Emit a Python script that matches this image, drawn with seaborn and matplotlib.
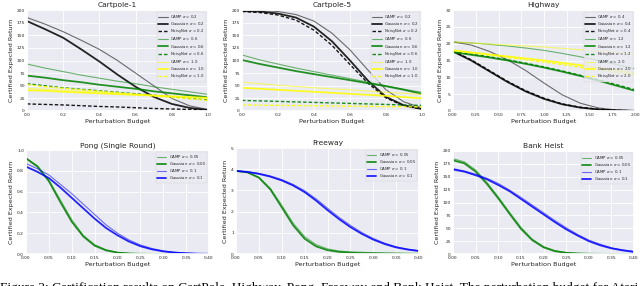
import numpy as np
import pandas as pd
import matplotlib
matplotlib.use("Agg")
import matplotlib.pyplot as plt
import seaborn as sns

# ---------------- data ----------------
x_cp = [0.0, 0.1, 0.2, 0.3, 0.4, 0.5, 0.6, 0.7, 0.8, 0.9, 1.0]
x_hw = [0.0, 0.2, 0.4, 0.6, 0.8, 1.0, 1.2, 1.4, 1.6, 1.8, 2.0]
x_at = [0.0, 0.025, 0.05, 0.075, 0.1, 0.125, 0.15, 0.175, 0.2,
        0.225, 0.25, 0.275, 0.3, 0.325, 0.35, 0.375, 0.4]

# Cartpole-1
cp1_camp_02 = [185, 172, 157, 140, 122, 100, 75, 50, 25, 10, 3]
cp1_gaus_02 = [178, 162, 145, 122, 98, 72, 48, 28, 14, 6, 2]
cp1_noisy_02 = [14, 13, 12, 10.5, 9, 8, 6.5, 5, 4, 3, 2]
cp1_camp_06 = [93, 85, 78, 71, 65, 59, 54, 48, 43, 38, 33]
cp1_gaus_06 = [70, 66, 61, 57, 52, 48, 44, 39, 35, 31, 27]
cp1_noisy_06 = [54, 50, 46, 43, 40, 37, 34, 31, 28, 25, 22]
cp1_camp_10 = [45, 43, 41, 39, 37, 35, 33, 31, 29, 27, 25]
cp1_gaus_10 = [41, 40, 38, 36.5, 35, 33.5, 32, 30.5, 29, 27.5, 26]
cp1_noisy_10 = [52, 48, 45, 42, 39, 36, 33, 30, 27, 24, 21]

# Cartpole-5
cp5_camp_02 = [200, 199, 197, 191, 178, 154, 121, 81, 42, 18, 6]
cp5_gaus_02 = [198, 197, 193, 185, 167, 138, 100, 60, 28, 11, 4]
cp5_noisy_02 = [197, 195, 190, 180, 160, 130, 92, 55, 26, 10, 4]
cp5_camp_06 = [111, 101, 93, 85, 78, 71, 64, 57, 50, 43, 37]
cp5_gaus_06 = [101, 93, 86, 79, 73, 67, 61, 55, 49, 42, 34]
cp5_noisy_06 = [21, 20, 19, 18, 17, 16, 15, 14, 13, 12, 11]
cp5_camp_10 = [57, 54, 51, 48.5, 46, 44, 42, 39.5, 37, 35, 33]
cp5_gaus_10 = [46, 44, 42, 40, 38, 36, 34, 32, 30, 27.5, 25]
cp5_noisy_10 = [12, 11.6, 11.2, 10.8, 10.4, 10, 9.6, 9.2, 8.8, 8.4, 8]

# Highway
hw_camp_04 = [20.5, 19.6, 17.7, 15.2, 12.0, 8.3, 4.8, 2.3, 0.9, 0.3, 0.1]
hw_gaus_04 = [17.7, 15.0, 11.8, 8.6, 5.8, 3.6, 2.0, 1.0, 0.45, 0.2, 0.05]
hw_noisy_04 = [17.8, 15.2, 12.0, 8.8, 6.0, 3.8, 2.1, 1.1, 0.5, 0.2, 0.05]
hw_camp_12 = [20.5, 20.2, 19.8, 19.3, 18.7, 18.0, 17.1, 16.1, 15.0, 13.8, 12.5]
hw_gaus_12 = [17.5, 16.7, 15.9, 15.0, 14.0, 12.9, 11.7, 10.4, 9.0, 7.5, 6.0]
hw_noisy_12 = [17.7, 16.9, 16.1, 15.2, 14.2, 13.1, 11.9, 10.6, 9.2, 7.8, 6.3]
hw_camp_20 = [20.5, 20.2, 19.9, 19.6, 19.3, 19.0, 18.6, 18.2, 17.8, 17.4, 17.0]
hw_gaus_20 = [18.0, 17.4, 16.8, 16.2, 15.6, 15.0, 14.3, 13.6, 12.8, 12.0, 11.2]
hw_noisy_20 = [18.0, 17.3, 16.6, 15.9, 15.2, 14.5, 13.8, 13.0, 12.2, 11.4, 10.5]

# Pong (Single Round)
pg_camp_005 = [0.92, 0.85, 0.71, 0.52, 0.33, 0.18, 0.09, 0.04, 0.015, 0.006,
               0.002, 0.001, 0.0, 0.0, 0.0, 0.0, 0.0]
pg_gaus_005 = [0.92, 0.84, 0.70, 0.50, 0.31, 0.17, 0.08, 0.035, 0.013, 0.005,
               0.002, 0.001, 0.0, 0.0, 0.0, 0.0, 0.0]
pg_camp_01 = [0.87, 0.82, 0.76, 0.67, 0.58, 0.48, 0.38, 0.28, 0.20, 0.135,
              0.087, 0.053, 0.03, 0.017, 0.009, 0.004, 0.002]
pg_gaus_01 = [0.84, 0.79, 0.73, 0.64, 0.54, 0.44, 0.34, 0.25, 0.18, 0.12,
              0.075, 0.045, 0.025, 0.013, 0.007, 0.003, 0.002]

# Freeway
fw_camp_005 = [3.92, 3.86, 3.62, 3.1, 2.3, 1.45, 0.82, 0.44, 0.24, 0.14,
               0.1, 0.08, 0.06, 0.05, 0.04, 0.03, 0.02]
fw_gaus_005 = [3.92, 3.85, 3.6, 3.05, 2.2, 1.35, 0.72, 0.36, 0.18, 0.1,
               0.06, 0.04, 0.03, 0.02, 0.015, 0.01, 0.01]
fw_camp_01 = [3.92, 3.88, 3.8, 3.68, 3.51, 3.28, 2.98, 2.6, 2.16, 1.73,
              1.35, 1.01, 0.73, 0.51, 0.34, 0.23, 0.15]
fw_gaus_01 = [3.92, 3.87, 3.78, 3.65, 3.47, 3.23, 2.92, 2.52, 2.07, 1.65,
              1.27, 0.95, 0.68, 0.47, 0.31, 0.21, 0.14]

# Bank Heist
bh_camp_005 = [185, 179, 163, 139, 111, 81, 52, 29, 14.5, 6.5, 2.8, 1.3,
               0.7, 0.4, 0.25, 0.15, 0.1]
bh_gaus_005 = [182, 176, 160, 136, 108, 78, 49, 27, 13, 5.5, 2.2, 1.0,
               0.5, 0.3, 0.2, 0.1, 0.1]
bh_camp_01 = [166, 161, 155, 147, 137, 124, 110, 95, 80, 65, 51, 38, 27,
              19, 12, 8, 5]
bh_gaus_01 = [164, 160, 153, 145, 134, 122, 107, 92, 77, 62, 48, 36, 25,
              17, 11, 7, 4]

caption = ("Figure 2: Certification results on CartPole, Highway, Pong, "
           "Freeway and Bank Heist. The perturbation budget for Atari is")

# ---------------- style ----------------
sns.set_theme(style="darkgrid")
plt.rcParams["font.family"] = ["DejaVu Sans"]

W, H = 640, 286
fig = plt.figure(figsize=(6.4, 2.86), dpi=100)


def make_ax(x0, x1, y0, y1):
    return fig.add_axes([x0 / W, 1 - y1 / H, (x1 - x0) / W, (y1 - y0) / H])


STY = {
    "camp": dict(lw=0.8, ls="-", alpha=0.55),
    "gaus": dict(lw=1.3, ls="-", alpha=0.85),
    "noisy": dict(lw=1.0, ls=(0, (2.5, 1.5)), alpha=0.9),
}


def line(ax, x, y, color, kind, label):
    df = pd.DataFrame({"x": x, "y": y})
    sns.lineplot(data=df, x="x", y="y", ax=ax, color=color, label=label,
                 **STY[kind])


def finish(ax, title, xlim, ylim, xticks, yticks, xfmt, yfmt):
    ax.set_xlim(*xlim)
    ax.set_ylim(*ylim)
    ax.set_xticks(xticks)
    ax.set_yticks(yticks)
    ax.set_xticklabels([xfmt.format(v) for v in xticks])
    ax.set_yticklabels([yfmt.format(v) for v in yticks])
    ax.tick_params(labelsize=3.2, pad=1.5, length=0)
    ax.set_title(title, fontsize=5.4, pad=2)
    ax.set_xlabel("Perturbation Budget", fontsize=4.6, labelpad=1.5)
    ax.set_ylabel("Certified Expected Return", fontsize=4.6, labelpad=2)
    ax.grid(True, color="white", lw=0.6)
    leg = ax.legend(loc="upper right", fontsize=2.8, handlelength=2.4,
                    labelspacing=0.05, borderpad=0.35, framealpha=0.8,
                    handletextpad=0.6, borderaxespad=0.4)
    leg.get_frame().set_linewidth(0.3)


sig = r"$\sigma$"

# Cartpole-1
ax = make_ax(27, 208, 10, 111)
for ys, c, k, lab in [
    (cp1_camp_02, "black", "camp", f"CAMP {sig} = 0.2"),
    (cp1_gaus_02, "black", "gaus", f"Gaussian {sig} = 0.2"),
    (cp1_noisy_02, "black", "noisy", f"NoisyNet {sig} = 0.2"),
    (cp1_camp_06, "green", "camp", f"CAMP {sig} = 0.6"),
    (cp1_gaus_06, "green", "gaus", f"Gaussian {sig} = 0.6"),
    (cp1_noisy_06, "green", "noisy", f"NoisyNet {sig} = 0.6"),
    (cp1_camp_10, "yellow", "camp", f"CAMP {sig} = 1.0"),
    (cp1_gaus_10, "yellow", "gaus", f"Gaussian {sig} = 1.0"),
    (cp1_noisy_10, "yellow", "noisy", f"NoisyNet {sig} = 1.0"),
]:
    line(ax, x_cp, ys, c, k, lab)
finish(ax, "Cartpole-1", (0, 1), (0, 200), [0, 0.2, 0.4, 0.6, 0.8, 1.0],
       list(range(0, 201, 25)), "{:.1f}", "{:d}")

# Cartpole-5
ax = make_ax(242, 422, 10, 111)
for ys, c, k, lab in [
    (cp5_camp_02, "black", "camp", f"CAMP {sig} = 0.2"),
    (cp5_gaus_02, "black", "gaus", f"Gaussian {sig} = 0.2"),
    (cp5_noisy_02, "black", "noisy", f"NoisyNet {sig} = 0.2"),
    (cp5_camp_06, "green", "camp", f"CAMP {sig} = 0.6"),
    (cp5_gaus_06, "green", "gaus", f"Gaussian {sig} = 0.6"),
    (cp5_noisy_06, "green", "noisy", f"NoisyNet {sig} = 0.6"),
    (cp5_camp_10, "yellow", "camp", f"CAMP {sig} = 1.0"),
    (cp5_gaus_10, "yellow", "gaus", f"Gaussian {sig} = 1.0"),
    (cp5_noisy_10, "yellow", "noisy", f"NoisyNet {sig} = 1.0"),
]:
    line(ax, x_cp, ys, c, k, lab)
finish(ax, "Cartpole-5", (0, 1), (0, 200), [0, 0.2, 0.4, 0.6, 0.8, 1.0],
       list(range(0, 201, 25)), "{:.1f}", "{:d}")

# Highway
ax = make_ax(453, 635, 10, 111)
for ys, c, k, lab in [
    (hw_camp_04, "black", "camp", f"CAMP {sig} = 0.4"),
    (hw_gaus_04, "black", "gaus", f"Gaussian {sig} = 0.4"),
    (hw_noisy_04, "black", "noisy", f"NoisyNet {sig} = 0.4"),
    (hw_camp_12, "green", "camp", f"CAMP {sig} = 1.2"),
    (hw_gaus_12, "green", "gaus", f"Gaussian {sig} = 1.2"),
    (hw_noisy_12, "green", "noisy", f"NoisyNet {sig} = 1.2"),
    (hw_camp_20, "yellow", "camp", f"CAMP {sig} = 2.0"),
    (hw_gaus_20, "yellow", "gaus", f"Gaussian {sig} = 2.0"),
    (hw_noisy_20, "yellow", "noisy", f"NoisyNet {sig} = 2.0"),
]:
    line(ax, x_hw, ys, c, k, lab)
finish(ax, "Highway", (0, 2), (0, 30),
       [0, 0.25, 0.5, 0.75, 1.0, 1.25, 1.5, 1.75, 2.0],
       list(range(0, 31, 5)), "{:.2f}", "{:d}")

atari_xt = [0, 0.05, 0.1, 0.15, 0.2, 0.25, 0.3, 0.35, 0.4]

# Pong
ax = make_ax(26, 209, 150, 254)
for ys, c, k, lab in [
    (pg_camp_005, "green", "camp", f"CAMP {sig} = 0.05"),
    (pg_gaus_005, "green", "gaus", f"Gaussian {sig} = 0.05"),
    (pg_camp_01, "blue", "camp", f"CAMP {sig} = 0.1"),
    (pg_gaus_01, "blue", "gaus", f"Gaussian {sig} = 0.1"),
]:
    line(ax, x_at, ys, c, k, lab)
finish(ax, "Pong (Single Round)", (0, 0.4), (0, 1.0), atari_xt,
       [0, 0.2, 0.4, 0.6, 0.8, 1.0], "{:.2f}", "{:.1f}")

# Freeway
ax = make_ax(236, 419, 148, 254)
for ys, c, k, lab in [
    (fw_camp_005, "green", "camp", f"CAMP {sig} = 0.05"),
    (fw_gaus_005, "green", "gaus", f"Gaussian {sig} = 0.05"),
    (fw_camp_01, "blue", "camp", f"CAMP {sig} = 0.1"),
    (fw_gaus_01, "blue", "gaus", f"Gaussian {sig} = 0.1"),
]:
    line(ax, x_at, ys, c, k, lab)
finish(ax, "Freeway", (0, 0.4), (0, 5), atari_xt, [0, 1, 2, 3, 4, 5],
       "{:.2f}", "{:d}")

# Bank Heist
ax = make_ax(453, 634, 151, 254)
for ys, c, k, lab in [
    (bh_camp_005, "green", "camp", f"CAMP {sig} = 0.05"),
    (bh_gaus_005, "green", "gaus", f"Gaussian {sig} = 0.05"),
    (bh_camp_01, "blue", "camp", f"CAMP {sig} = 0.1"),
    (bh_gaus_01, "blue", "gaus", f"Gaussian {sig} = 0.1"),
]:
    line(ax, x_at, ys, c, k, lab)
finish(ax, "Bank Heist", (0, 0.4), (0, 200), atari_xt,
       list(range(0, 201, 25)), "{:.2f}", "{:d}")

fig.text(0.0, 1 - 291 / H, caption, fontsize=9.6, ha="left",
         va="baseline", family=["Liberation Serif"], color="black")

fig.savefig("out.png", dpi=100, facecolor="white")
